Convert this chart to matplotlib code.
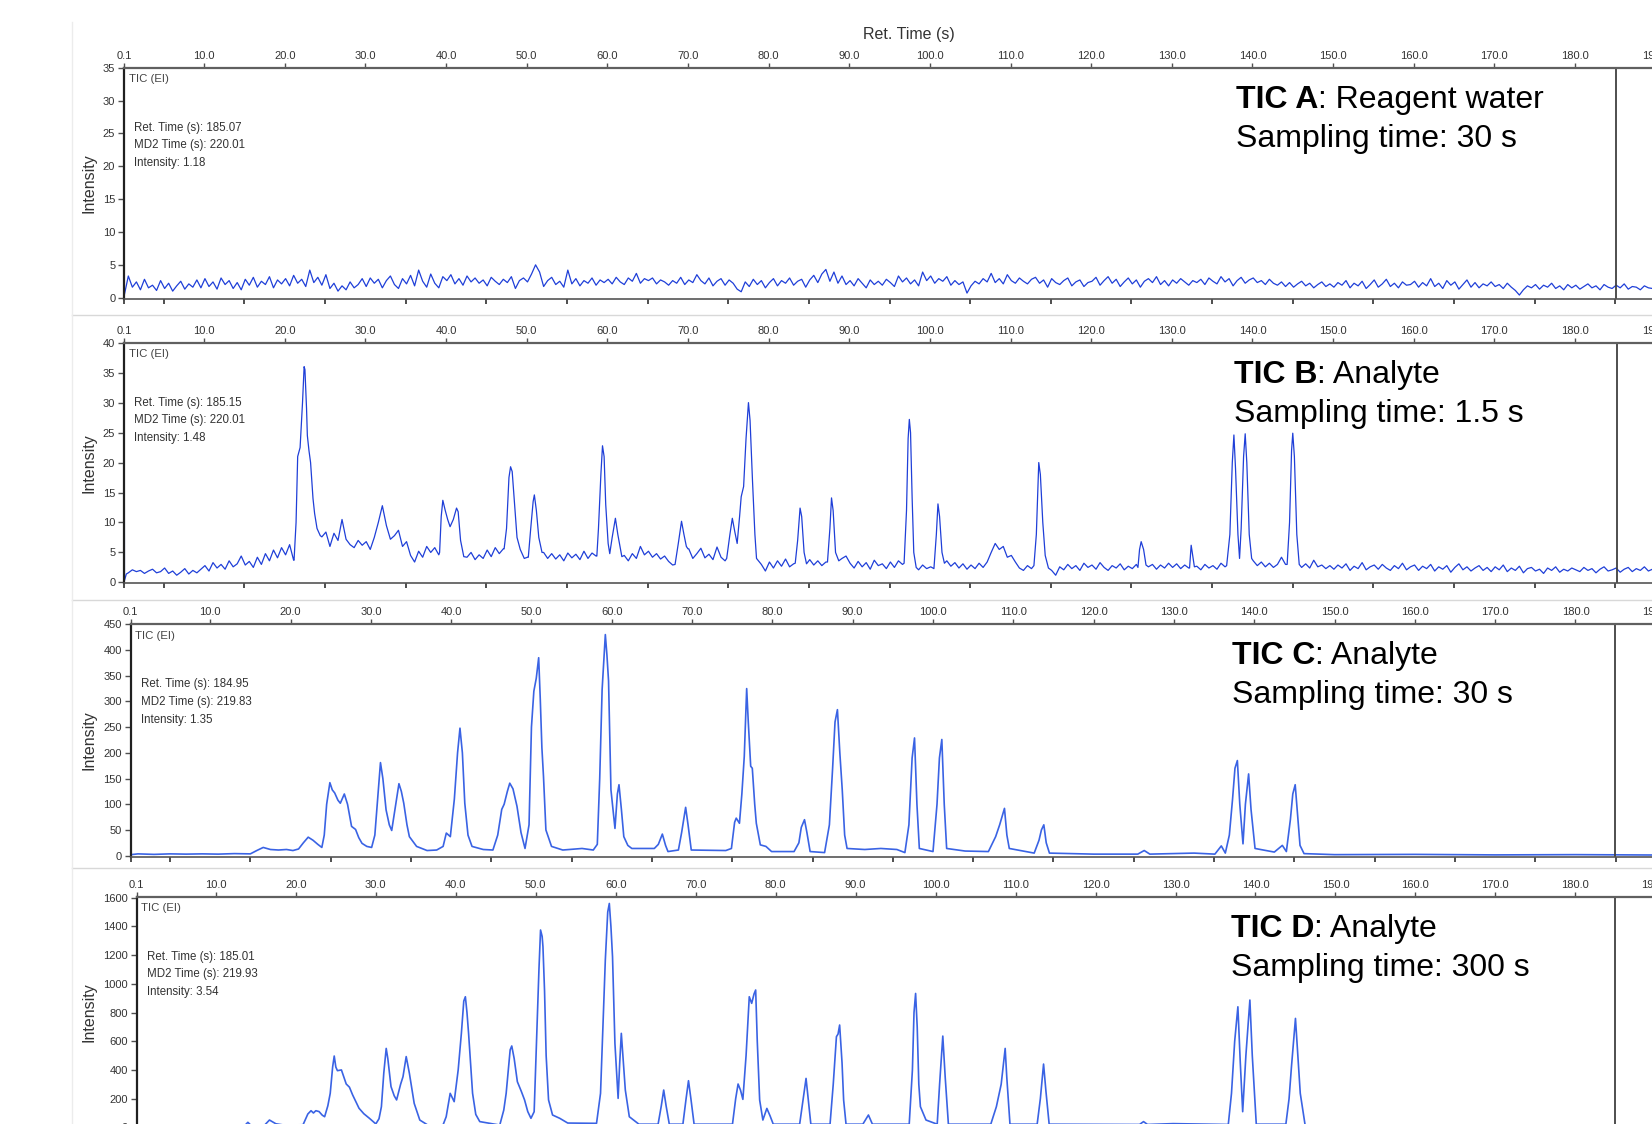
import numpy as np
import matplotlib
matplotlib.use("Agg")
import matplotlib.pyplot as plt
from matplotlib.lines import Line2D

plt.rcParams['font.family'] = 'Liberation Sans'

W, H = 1652, 1124

# ---------------- data ----------------
top_ticks = [0.1, 10, 20, 30, 40, 50, 60, 70, 80, 90, 100, 110, 120, 130, 140, 150, 160, 170, 180, 190]
top_labels = ["0.1", "10.0", "20.0", "30.0", "40.0", "50.0", "60.0", "70.0", "80.0", "90.0", "100.0",
              "110.0", "120.0", "130.0", "140.0", "150.0", "160.0", "170.0", "180.0", "190.0"]
bottom_ticks = [0.1, 5, 15, 25, 35, 45, 55, 65, 75, 85, 95, 105, 115, 125, 135, 145, 155, 165, 175, 185, 195]

letters = ["A", "B", "C", "D"]
subtitles = ["Reagent water", "Analyte", "Analyte", "Analyte"]
sampling = ["30 s", "1.5 s", "30 s", "300 s"]
cursor_rt = [185.07, 185.15, 184.95, 185.01]
cursor_md2 = [220.01, 220.01, 219.83, 219.93]
cursor_int = [1.18, 1.48, 1.35, 3.54]

yticks_A = [0, 5, 10, 15, 20, 25, 30, 35]
yticks_B = [0, 5, 10, 15, 20, 25, 30, 35, 40]
yticks_C = [0, 50, 100, 150, 200, 250, 300, 350, 400, 450]
yticks_D = [0, 200, 400, 600, 800, 1000, 1200, 1400, 1600]

# TIC A: baseline only, one value every 0.5 s starting at 0.1 s
noise_A = [
    0.4, 3.3, 1.6, 2.4, 1.2, 2.8, 1.5, 1.9, 1.1, 2.6, 1.4, 2.2, 1.0, 1.8, 2.5, 1.3, 2.1, 1.6, 2.7, 1.5,
    2.9, 1.7, 2.4, 1.3, 3.0, 2.0, 2.6, 1.4, 2.3, 1.2, 2.8, 1.9, 3.1, 1.6, 2.5, 2.0, 3.2, 1.5, 2.7, 2.1,
    2.9, 1.8, 3.4, 2.2, 2.8, 1.7, 4.2, 2.3, 3.1, 1.9, 3.5, 1.4, 2.2, 1.0, 1.8, 1.2, 2.4, 1.5, 2.0, 2.9,
    1.7, 3.0, 2.2, 2.8, 1.5, 2.6, 3.3, 2.0, 1.4, 2.9, 2.1, 3.4, 1.8, 4.2, 2.5, 1.6, 3.6, 2.2, 1.5, 3.2,
    2.6, 3.5, 2.1, 2.9, 1.9, 3.3, 2.4, 3.0, 2.2, 2.7, 1.8, 3.1, 2.5, 2.0, 2.8, 2.3, 3.2, 1.4, 2.6, 3.0,
    2.4, 3.6, 5.0, 3.9, 1.7, 2.6, 3.1, 2.0, 2.5, 1.6, 4.2, 2.1, 2.9, 1.8, 2.6, 2.2, 3.0, 1.9, 2.7, 2.3,
    2.8, 2.1, 3.1, 2.4, 2.0, 3.0, 2.5, 3.7, 2.2, 2.9, 2.6, 3.0, 2.1, 2.7, 2.4, 1.9, 2.6, 2.2, 3.1, 2.0,
    2.7, 2.3, 3.5, 2.6, 2.1, 3.0, 1.8, 2.5, 2.9, 1.9, 2.7, 2.2, 1.3, 0.9, 2.4, 1.7, 2.8, 2.0, 2.6, 1.5,
    2.3, 2.9, 1.8, 2.6, 2.2, 3.0, 1.9, 2.5, 2.8, 1.6, 2.7, 3.4, 2.3, 3.6, 4.3, 2.5, 3.9, 2.2, 3.3, 2.0,
    2.6, 1.8, 2.9, 2.2, 1.5, 2.7, 2.0, 2.5, 1.9, 2.8, 2.3, 1.7, 3.3, 2.4, 3.0, 2.1, 2.7, 1.8, 3.9, 2.6,
    3.3, 2.2, 2.9, 2.5, 3.2, 1.9, 2.6, 2.0, 2.4, 0.7, 1.8, 2.5, 2.1, 2.9, 2.4, 3.7, 2.3, 2.9, 2.1, 3.5,
    2.6, 2.2, 3.0, 2.5, 2.1, 2.8, 3.1, 2.2, 2.7, 1.6, 2.9, 2.3, 2.0, 2.6, 3.0, 1.8, 2.4, 2.7, 1.7, 2.3,
    2.5, 3.1, 1.9, 2.6, 3.2, 2.2, 2.8, 1.7, 2.4, 3.0, 2.1, 2.7, 1.6, 2.5, 2.9, 2.3, 3.2, 2.0, 2.6, 1.8,
    2.7, 2.2, 2.9, 2.4, 1.9, 2.6, 2.3, 2.8, 2.0, 3.0, 2.5, 2.1, 3.2, 2.4, 2.9, 1.8, 2.6, 3.1, 2.2, 2.7,
    3.0, 2.3, 2.6, 2.0, 2.8, 2.2, 1.9, 2.4, 1.7, 2.3, 1.6, 2.1, 2.5, 1.8, 2.2, 1.5, 2.0, 2.4, 1.7, 2.1,
    1.6, 2.3, 1.9, 2.6, 1.5, 2.2, 1.8, 2.5, 1.4, 2.0, 2.7, 1.6, 2.1, 2.8, 1.7, 2.2, 1.5, 2.4, 1.9, 2.0,
    2.5, 1.6, 2.3, 1.8, 2.9, 1.7, 2.2, 1.4, 2.6, 1.9, 2.4, 1.3, 2.0, 2.7, 1.6, 2.3, 1.5, 2.1, 1.8, 2.4,
    1.7, 2.0, 1.4, 2.2, 1.6, 1.1, 0.4, 1.2, 1.8, 1.5, 2.0, 1.3, 1.9, 1.6, 2.2, 1.4, 1.8, 1.2, 2.0, 1.5,
    1.9, 1.3, 1.7, 2.1, 1.5, 1.8, 1.2, 2.0, 1.6, 1.4, 1.9, 1.5, 2.1, 1.3, 1.7, 1.6, 1.2, 1.8, 1.5, 1.4,
]

# TIC B: baseline every 0.5 s from 0.1 s, peaks given as separate vertex groups
noise_B = [
    0.5, 1.6, 2.1, 1.8, 2.0, 1.5, 1.9, 2.2, 1.6, 1.8, 2.4, 1.5, 1.9, 1.2, 1.7, 2.3, 1.4, 2.0, 1.6, 2.2,
    2.8, 1.9, 3.3, 2.4, 3.0, 2.2, 3.6, 2.6, 3.1, 4.4, 2.9, 3.5, 2.5, 4.2, 3.0, 4.8, 3.6, 5.4, 4.1, 5.8,
    4.6, 6.3, 3.7, 4.0, 4.0, 4.0, 4.0, 4.0, 8.0, 7.6, 8.4, 6.0, 8.2, 7.0, 10.5, 7.2, 6.3, 5.8, 7.0, 6.2,
    6.8, 5.5, 7.5, 10.0, 12.8, 9.5, 7.2, 7.8, 8.7, 6.0, 6.8, 4.5, 3.4, 5.2, 4.2, 6.0, 5.0, 5.8, 4.6, 12.0,
    11.0, 9.5, 10.8, 11.5, 6.0, 4.2, 5.0, 3.8, 4.6, 4.0, 5.4, 4.3, 5.8, 4.8, 5.6, 10.0, 19.0, 12.0, 6.0, 4.5,
    4.2, 9.0, 13.0, 8.0, 5.0, 4.0, 4.8, 3.9, 4.6, 3.6, 4.9, 4.1, 4.7, 3.8, 5.2, 4.0, 4.9, 4.4, 15.0, 20.0,
    8.0, 6.0, 10.0, 6.5, 4.5, 3.6, 4.8, 4.0, 6.0, 4.6, 5.2, 4.2, 4.8, 3.9, 4.4, 3.5, 2.9, 4.6, 9.8, 6.5,
    5.6, 4.0, 4.8, 5.7, 4.1, 4.7, 3.8, 5.9, 4.2, 3.6, 8.0, 10.0, 7.0, 14.0, 28.0, 25.0, 15.0, 4.0, 3.0, 1.9,
    3.4, 2.4, 3.6, 2.7, 3.9, 2.6, 3.1, 9.0, 11.0, 3.3, 3.8, 2.9, 3.6, 2.8, 3.4, 13.0, 8.0, 3.5, 4.0, 4.4,
    3.2, 2.4, 3.5, 2.6, 3.3, 2.2, 3.7, 2.8, 3.1, 2.3, 3.4, 2.5, 3.6, 3.0, 20.0, 20.0, 2.6, 2.1, 2.9, 2.3,
    2.6, 2.2, 12.0, 5.0, 3.6, 2.7, 3.3, 2.4, 3.1, 2.2, 2.9, 2.3, 3.2, 2.5, 3.4, 5.0, 6.5, 5.5, 6.0, 4.2,
    4.5, 3.4, 2.4, 2.0, 2.8, 2.3, 3.0, 18.0, 8.0, 2.2, 2.0, 1.2, 2.6, 2.1, 3.0, 2.3, 2.8, 2.0, 3.2, 2.5,
    2.9, 2.2, 3.3, 2.5, 2.0, 2.8, 2.4, 3.1, 2.1, 2.7, 2.3, 3.0, 6.5, 4.0, 2.6, 3.0, 2.2, 2.9, 2.4, 3.2,
    2.5, 3.1, 2.3, 2.9, 2.4, 5.8, 2.7, 2.1, 3.0, 2.4, 2.8, 2.2, 3.2, 2.6, 8.0, 20.0, 5.0, 20.0, 20.0, 6.0,
    3.6, 2.8, 3.4, 2.6, 3.2, 2.5, 3.0, 4.2, 3.0, 20.0, 20.0, 3.0, 2.5, 3.1, 2.4, 3.7, 2.6, 2.9, 2.3, 2.8,
    2.2, 2.9, 2.4, 3.1, 2.0, 2.7, 2.3, 3.3, 2.1, 2.6, 2.9, 2.2, 3.0, 2.4, 2.0, 2.8, 2.3, 3.2, 2.1, 2.6,
    2.9, 2.0, 2.7, 2.3, 3.0, 1.9, 2.6, 2.2, 2.8, 1.7, 2.5, 3.1, 2.1, 2.6, 1.9, 2.4, 2.8, 2.0, 2.5, 1.8,
    2.6, 2.1, 2.9, 1.8, 2.4, 2.0, 2.7, 1.6, 2.3, 2.5, 1.9, 2.2, 1.5, 2.4, 2.0, 2.6, 1.7, 2.2, 1.9, 2.4,
    2.1, 1.8, 2.5, 2.0, 2.3, 1.6, 2.2, 2.6, 1.9, 2.1, 2.4, 1.7, 2.2, 2.5, 1.8, 2.3, 2.0, 2.6, 1.9, 2.2,
]

peaks_B = [
    [(0.1, 26.5), (0.12, 0.3), (0.35, 1.4)],
    [(21.15, 3.7), (21.4, 10), (21.6, 21), (21.9, 22.5), (22.2, 30), (22.4, 36), (22.5, 35.5), (22.7, 29),
     (22.8, 24.5), (23.0, 22), (23.2, 20), (23.5, 14), (23.7, 11.5), (24.0, 9), (24.4, 7.8)],
    [(39.2, 5), (39.4, 11), (39.6, 13.7), (39.9, 12), (40.2, 10.5), (40.5, 9.3), (40.9, 10.5), (41.3, 12.4),
     (41.5, 11.8), (41.8, 7), (42.2, 4.3)],
    [(47.2, 5.6), (47.5, 9), (47.8, 17.5), (48.0, 19.3), (48.2, 18.5), (48.5, 13), (48.8, 7.5), (49.2, 5.5), (49.7, 4.0)],
    [(50.2, 4.2), (50.5, 9), (50.8, 13.5), (50.95, 14.6), (51.2, 12), (51.5, 7.5), (51.9, 5.0)],
    [(58.7, 4.4), (58.9, 9), (59.2, 18), (59.4, 22.8), (59.6, 21), (59.8, 13), (60.1, 6.5), (60.3, 4.8),
     (60.6, 7.5), (61.0, 10.7), (61.3, 8), (61.8, 4.3)],
    [(68.4, 3.0), (68.8, 6.5), (69.2, 10.2), (69.5, 8), (69.8, 6), (70.0, 5.6)],
    [(74.8, 4), (75.2, 8), (75.5, 10.7), (75.8, 8.5), (76.1, 6.5), (76.4, 11), (76.6, 14.3), (76.9, 16),
     (77.2, 24), (77.5, 30), (77.7, 27), (78.0, 17), (78.3, 8), (78.5, 4), (78.8, 3.5)],
    [(83.3, 3.2), (83.6, 7), (83.9, 12.4), (84.1, 11), (84.4, 5), (84.7, 3.1)],
    [(87.3, 3.4), (87.6, 9), (87.8, 14.1), (88.0, 12), (88.3, 5), (88.7, 3.6)],
    [(96.8, 3.2), (97.1, 12), (97.3, 24), (97.45, 27.2), (97.6, 25), (97.8, 14), (98.0, 5), (98.3, 2.5)],
    [(100.5, 2.3), (100.8, 8), (101.0, 13.1), (101.2, 11), (101.5, 5), (101.8, 3.2)],
    [(112.9, 2.8), (113.2, 8), (113.5, 20), (113.7, 18), (114.0, 10), (114.3, 4.5), (114.7, 2.4)],
    [(125.8, 2.5), (126.0, 5.5), (126.2, 6.8), (126.5, 5.5), (126.8, 2.9)],
    [(132.2, 2.4), (132.4, 6.2), (132.8, 2.6)],
    [(136.8, 2.8), (137.2, 8), (137.5, 20), (137.7, 24.6), (137.9, 19), (138.2, 8), (138.4, 4.0), (138.6, 9),
     (138.9, 21), (139.1, 24.8), (139.3, 20), (139.6, 8), (139.9, 4.0)],
    [(144.3, 3.0), (144.6, 10), (144.85, 22), (145.0, 24.9), (145.2, 21), (145.5, 8), (145.8, 3.0)],
]

# TIC C and TIC D: (time, intensity) vertices
trace_C = [
    (0.1, 30), (0.15, 2), (1.0, 3.5), (3.0, 2.5), (5.0, 3.5), (7.0, 3.0), (9.0, 3.5), (11.0, 3.0), (13.0, 4.0), (15.0, 3.5),
    (15.8, 10), (16.6, 16), (17.5, 12), (18.5, 11), (19.5, 12), (20.3, 10), (21.0, 13), (21.6, 25), (22.2, 36), (22.8, 30),
    (23.4, 22), (23.9, 16), (24.2, 40), (24.5, 100), (24.9, 142), (25.2, 128), (25.5, 122), (25.9, 108), (26.2, 102),
    (26.7, 120), (27.1, 100), (27.6, 57), (28.1, 51), (28.5, 35), (28.9, 24), (29.5, 18), (30.1, 16),
    (30.5, 40), (30.8, 100), (31.2, 181), (31.5, 150), (31.9, 89), (32.3, 60), (32.6, 49), (33.0, 90), (33.5, 140),
    (33.8, 125), (34.1, 102), (34.5, 60), (34.8, 37), (35.7, 18), (37.0, 10), (38.2, 11), (39.0, 18), (39.4, 44), (39.9, 37),
    (40.4, 110), (40.8, 200), (41.1, 248), (41.4, 200), (41.7, 102), (42.1, 40), (42.6, 18), (44.0, 12), (45.2, 11),
    (45.8, 40), (46.3, 90), (46.6, 100), (47.0, 125), (47.3, 141), (47.7, 130), (48.2, 96), (48.7, 45), (49.2, 14),
    (49.7, 60), (50.0, 250), (50.3, 320), (50.6, 345), (50.9, 385), (51.1, 304), (51.3, 210), (51.5, 154), (51.8, 50),
    (52.5, 18), (53.9, 11), (56.3, 14), (57.7, 11), (58.2, 22),
    (58.5, 150), (58.8, 323), (59.2, 430), (59.4, 390), (59.6, 340), (59.9, 128), (60.4, 53), (60.7, 120), (60.9, 138),
    (61.2, 90), (61.5, 37), (62.0, 20), (62.5, 14), (65.3, 14),
    (65.8, 22), (66.3, 42), (66.7, 20), (67.0, 8), (68.3, 11), (68.7, 45), (69.2, 94), (69.5, 60), (69.9, 11), (74.2, 10), (74.9, 14),
    (75.3, 65), (75.5, 73), (75.9, 63), (76.2, 120), (76.5, 193), (76.8, 325), (77.0, 260), (77.3, 174), (77.5, 170),
    (77.8, 100), (78.0, 63), (78.5, 21), (79.2, 18), (79.9, 8), (82.7, 8),
    (83.3, 25), (83.6, 55), (84.0, 70), (84.3, 45), (84.7, 8), (86.5, 6),
    (87.1, 60), (87.5, 170), (87.8, 260), (88.1, 284), (88.4, 200), (88.7, 128), (89.0, 40), (89.3, 14), (91.5, 12),
    (93.5, 14), (95.5, 12), (96.5, 6),
    (97.0, 60), (97.4, 190), (97.7, 229), (98.0, 100), (98.3, 14), (100.0, 8),
    (100.5, 100), (100.8, 190), (101.1, 226), (101.4, 100), (101.7, 14), (104.0, 9), (106.9, 8),
    (107.8, 37), (108.3, 60), (108.9, 92), (109.2, 40), (109.5, 14), (112.6, 5),
    (113.2, 30), (113.5, 50), (113.8, 60), (114.1, 25), (114.5, 5), (120.0, 3), (125.5, 3), (126.3, 10), (127.0, 3),
    (132.5, 5), (135.1, 3), (135.9, 19), (136.4, 5), (136.9, 40), (137.3, 110), (137.6, 170), (137.9, 185), (138.2, 100),
    (138.6, 23), (138.9, 100), (139.3, 159), (139.6, 90), (140.1, 14), (142.5, 7),
    (143.5, 20), (144.0, 8), (144.5, 70), (144.8, 120), (145.1, 138), (145.4, 80), (145.7, 20), (146.2, 4),
    (150.0, 2), (160.0, 2.5), (170.0, 1.5), (180.0, 2), (189.5, 1.3),
]

trace_D = [
    (0.1, 5), (13.5, 6), (14.0, 35), (14.5, 8), (16.0, 10), (16.7, 51), (17.5, 25), (18.5, 16), (20.9, 18),
    (21.5, 93), (21.9, 116), (22.2, 100), (22.5, 116), (22.9, 110), (23.3, 85), (23.6, 74), (24.0, 150), (24.3, 237),
    (24.6, 420), (24.8, 497), (25.0, 420), (25.2, 395), (25.7, 400), (26.3, 302), (26.7, 280), (27.1, 226), (27.9, 133),
    (28.5, 95), (29.2, 63), (30.0, 24),
    (30.4, 60), (30.7, 144), (31.0, 380), (31.3, 550), (31.5, 480), (31.9, 284), (32.3, 220), (32.6, 191), (33.1, 300),
    (33.4, 353), (33.8, 493), (34.2, 376), (34.8, 167), (35.5, 51), (36.5, 16), (38.4, 16),
    (38.8, 74), (39.3, 237), (39.8, 179), (40.3, 400), (40.7, 655), (41.0, 880), (41.2, 910), (41.4, 800), (41.6, 655),
    (41.9, 400), (42.1, 237), (42.5, 90), (43.0, 40), (45.5, 16),
    (46.0, 120), (46.3, 237), (46.6, 420), (46.8, 540), (47.0, 567), (47.3, 480), (47.7, 318), (48.2, 250), (48.6, 191),
    (49.0, 110), (49.4, 63), (49.8, 109),
    (50.1, 600), (50.4, 1100), (50.6, 1375), (50.8, 1330), (50.9, 1259), (51.1, 950), (51.3, 500), (51.6, 191), (52.1, 86),
    (53.0, 63), (54.0, 30), (57.6, 28),
    (58.1, 237), (58.4, 700), (58.7, 1166), (59.0, 1500), (59.2, 1560), (59.4, 1400), (59.6, 1189), (59.9, 585), (60.3, 202),
    (60.5, 450), (60.7, 655), (60.9, 500), (61.2, 260), (61.7, 74), (62.9, 22), (65.3, 22),
    (65.7, 150), (66.0, 260), (66.3, 150), (66.7, 22), (68.4, 22), (68.8, 200), (69.1, 325), (69.4, 200), (69.8, 22), (74.6, 22),
    (75.0, 200), (75.3, 302), (75.6, 260), (75.9, 195), (76.3, 500), (76.7, 910), (77.0, 864), (77.3, 930), (77.5, 957),
    (77.7, 600), (78.0, 190), (78.4, 51), (78.9, 132), (79.3, 80), (79.7, 22), (83.0, 22),
    (83.4, 180), (83.8, 341), (84.1, 180), (84.4, 22), (86.8, 22), (87.2, 300), (87.6, 632), (87.8, 650), (88.0, 713),
    (88.3, 450), (88.5, 190), (88.8, 22), (90.9, 22), (91.6, 86), (92.1, 22), (96.7, 22),
    (97.1, 400), (97.3, 800), (97.5, 933), (97.7, 700), (97.9, 300), (98.1, 144), (98.8, 51), (100.2, 22),
    (100.5, 300), (100.9, 636), (101.2, 350), (101.6, 22), (106.9, 22), (107.6, 144), (108.2, 300), (108.5, 450),
    (108.7, 550), (108.9, 350), (109.3, 22), (112.7, 22),
    (113.1, 200), (113.5, 441), (113.8, 250), (114.2, 22), (125.5, 20), (126.0, 40), (126.5, 20), (129.7, 26), (136.6, 20),
    (137.0, 237), (137.4, 600), (137.8, 840), (138.1, 450), (138.4, 109), (138.8, 500), (139.3, 887), (139.6, 500),
    (140.1, 22), (143.8, 22),
    (144.2, 200), (144.5, 423), (145.0, 759), (145.3, 500), (145.6, 237), (146.2, 18), (147.0, 10), (189.5, 8),
]


def merge_trace(base, groups, t0=0.1, step=0.5):
    # baseline samples, with the samples under each peak swapped for the peak vertices
    t = t0 + step * np.arange(len(base))
    pts = list(zip(t, base))
    for g in groups:
        lo, hi = g[0][0], g[-1][0]
        pts = [p for p in pts if p[0] < lo or p[0] > hi]
        pts += g
    pts.sort(key=lambda p: p[0])
    return np.array(pts).T


traces = [
    merge_trace(noise_A, []),
    merge_trace(noise_B, peaks_B),
    np.array(trace_C).T,
    np.array(trace_D).T,
]
yticks = [yticks_A, yticks_B, yticks_C, yticks_D]

# ---------------- layout (pixels of the screenshot) ----------------
# left spine, top spine, bottom spine, pixels per second
layout = [(124.3, 67.7, 299.0, 8.064), (124.3, 342.7, 583.3, 8.064),
          (130.7, 624.3, 856.7, 8.031), (136.7, 896.7, 1128.5, 7.997)]
ylims = [(-0.2, 35), (-0.15, 40), (-2, 450), (-8, 1607)]
title_x = [1235.6, 1233.8, 1232.0, 1231.0]
line_col = ['#1f3fd8', '#1f3fd8', '#3a63e4', '#3a63e4']
line_w = [0.9, 0.9, 1.2, 1.2]
right_px = 1700
txt = '#333333'

fig = plt.figure(figsize=(W / 100, H / 100), dpi=100)
fig.patch.set_facecolor('white')


def fx(x):
    return x / W


def fy(y):
    return 1 - y / H


# window borders of the screenshot
for yy in [315, 600, 868]:
    fig.add_artist(Line2D([fx(72), 1], [fy(yy), fy(yy)], transform=fig.transFigure, color='#d8d8d8', lw=1))
fig.add_artist(Line2D([fx(72), fx(72)], [fy(22), 0], transform=fig.transFigure, color='#ececec', lw=1))

fig.text(fx(909), fy(35), "Ret. Time (s)", ha='center', va='center', fontsize=11.5, color=txt)

for i in range(4):
    left, top, bot, pps = layout[i]
    ax = fig.add_axes([fx(left), fy(bot), (right_px - left) / W, (bot - top) / H])
    ax.set_xlim(0.1, 0.1 + (right_px - left) / pps)
    ax.set_ylim(*ylims[i])

    t, y = traces[i]
    ax.plot(t, y, color=line_col[i], lw=line_w[i], solid_joinstyle='round')
    ax.axvline(cursor_rt[i], color='#404040', lw=1.3)

    ax.xaxis.remove_overlapping_locs = False
    ax.set_xticks(top_ticks)
    ax.set_xticklabels(top_labels)
    ax.set_xticks(bottom_ticks, minor=True)
    ax.tick_params(axis='x', which='major', top=True, labeltop=True, bottom=False, labelbottom=False,
                   direction='out', length=3.6, width=1.0, pad=1.5, labelsize=8, color='#505050', labelcolor=txt)
    ax.tick_params(axis='x', which='minor', top=False, bottom=True, direction='out', length=3.6, width=1.3,
                   color='#404040')
    ax.set_yticks(yticks[i])
    ax.tick_params(axis='y', which='major', left=True, direction='out', length=4.3, width=1.0, pad=2.2,
                   labelsize=8, color='#505050', labelcolor=txt)

    ax.spines['right'].set_visible(False)
    ax.spines['top'].set_color('#606060')
    ax.spines['top'].set_linewidth(1.6)
    ax.spines['left'].set_color('#202020')
    ax.spines['left'].set_linewidth(1.6)
    ax.spines['bottom'].set_color('#555555')
    ax.spines['bottom'].set_linewidth(1.2)

    fig.text(fx(89), fy((top + bot) / 2), "Intensity", rotation=90, ha='center', va='center',
             fontsize=11.5, color=txt)
    fig.text(fx(left + 4.7), fy(top + 11.3), "TIC (EI)", ha='left', va='center', fontsize=8.2, color='#444444')
    info = ["Ret. Time (s): %.2f" % cursor_rt[i],
            "MD2 Time (s): %.2f" % cursor_md2[i],
            "Intensity: %.2f" % cursor_int[i]]
    for k, s in enumerate(info):
        fig.text(fx(left + 10), fy(top + 60 + 17.7 * k), s, ha='left', va='center', fontsize=8.3, color=txt)

    t1 = fig.text(fx(title_x[i]), fy(top + 40), "TIC " + letters[i], ha='left', va='baseline',
                  fontsize=23, fontweight='bold', color='black')
    ax.annotate(": " + subtitles[i], xy=(1, 0), xycoords=t1, ha='left', va='bottom',
                fontsize=23, color='black', annotation_clip=False)
    fig.text(fx(title_x[i]), fy(top + 79), "Sampling time: " + sampling[i], ha='left', va='baseline',
             fontsize=23, color='black')

fig.savefig("out.png", dpi=100, facecolor='white')
